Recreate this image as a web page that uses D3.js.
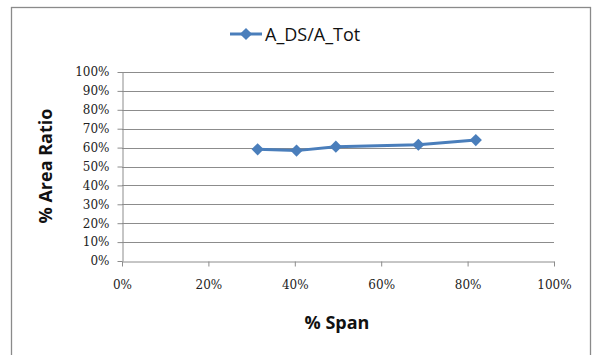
<!DOCTYPE html>
<html>
<head>
<meta charset="utf-8">
<script src="https://cdn.jsdelivr.net/npm/d3@7"></script>
<style>
  html, body { margin: 0; padding: 0; background: #fff; }
  svg { display: block; }
</style>
</head>
<body>
<svg id="chart" width="592" height="355"></svg>
<script>
// Span position (fraction) and area ratio (fraction) for each station
const spanValues = [0.314, 0.404, 0.495, 0.686, 0.819];
const areaRatioValues = [0.591, 0.584, 0.605, 0.615, 0.640];
const seriesName = "A_DS/A_Tot";
const xTickValues = [0, 0.2, 0.4, 0.6, 0.8, 1.0];
const yTickValues = [0, 0.1, 0.2, 0.3, 0.4, 0.5, 0.6, 0.7, 0.8, 0.9, 1.0];
const xTitle = "% Span";
const yTitle = "% Area Ratio";

const svg = d3.select("#chart");
const plot = { left: 122, right: 554, top: 72, bottom: 261 };
const lineColor = "#4a7ebb";
const gridColor = "#8c8c8c";
const tickFont = "'DejaVu Serif', serif";
const labelFont = "'Open Sans', 'Liberation Sans', sans-serif";

// outer chart frame
svg.append("rect")
  .attr("x", 11.5).attr("y", 7.5)
  .attr("width", 579).attr("height", 370)
  .attr("fill", "#fff")
  .attr("stroke", "#8a8a8a").attr("stroke-width", 1.3);

const x = d3.scaleLinear().domain([0, 1]).range([plot.left, plot.right]);
const y = d3.scaleLinear().domain([0, 1]).range([plot.bottom, plot.top]);
const pct = d3.format(".0%");

// horizontal gridlines
svg.append("g")
  .selectAll("line")
  .data(yTickValues.filter(v => v > 0))
  .join("line")
  .attr("x1", plot.left).attr("x2", plot.right)
  .attr("y1", d => Math.round(y(d)) + 0.5).attr("y2", d => Math.round(y(d)) + 0.5)
  .attr("stroke", gridColor).attr("stroke-width", 1);

// y axis
const yAxis = svg.append("g")
  .attr("transform", `translate(${plot.left + 0.5},0)`)
  .call(d3.axisLeft(y).tickValues(yTickValues).tickFormat(pct).tickSize(5).tickSizeOuter(0).tickPadding(8));

// x axis
const xAxis = svg.append("g")
  .attr("transform", `translate(0,${plot.bottom + 0.5})`)
  .call(d3.axisBottom(x).tickValues(xTickValues).tickFormat(pct).tickSize(5).tickSizeOuter(0).tickPadding(14));

[yAxis, xAxis].forEach(g => {
  g.select(".domain").attr("stroke", gridColor);
  g.selectAll(".tick line").attr("stroke", gridColor);
  g.selectAll(".tick text")
    .attr("fill", "#222")
    .style("font-family", tickFont)
    .style("font-size", "12px");
});

// series line
const pts = spanValues.map((s, i) => [s, areaRatioValues[i]]);
svg.append("path")
  .datum(pts)
  .attr("fill", "none")
  .attr("stroke", lineColor)
  .attr("stroke-width", 3)
  .attr("stroke-linejoin", "round")
  .attr("d", d3.line().x(d => x(d[0])).y(d => y(d[1])));

// diamond markers
const diamond = d3.symbol().type(d3.symbolDiamond2).size(95);
svg.append("g")
  .selectAll("path")
  .data(pts)
  .join("path")
  .attr("transform", d => `translate(${x(d[0])},${y(d[1])})`)
  .attr("d", diamond)
  .attr("fill", lineColor);

// legend
const lg = svg.append("g").attr("transform", "translate(230,34)");
lg.append("line").attr("x1", 0).attr("x2", 32).attr("y1", 0).attr("y2", 0)
  .attr("stroke", lineColor).attr("stroke-width", 3);
lg.append("path").attr("d", diamond).attr("transform", "translate(16,0)").attr("fill", lineColor);
lg.append("text")
  .attr("x", 35).attr("y", 6.5)
  .style("font-family", labelFont)
  .style("font-size", "18px")
  .attr("fill", "#111")
  .text(seriesName);

// axis titles
svg.append("text")
  .attr("x", 337).attr("y", 329)
  .attr("text-anchor", "middle")
  .style("font-family", labelFont)
  .style("font-size", "18px").style("font-weight", "bold")
  .attr("fill", "#111")
  .text(xTitle);

svg.append("text")
  .attr("transform", "translate(52,166) rotate(-90)")
  .attr("text-anchor", "middle")
  .style("font-family", labelFont)
  .style("font-size", "18px").style("font-weight", "bold")
  .attr("fill", "#111")
  .text(yTitle);
</script>
</body>
</html>
